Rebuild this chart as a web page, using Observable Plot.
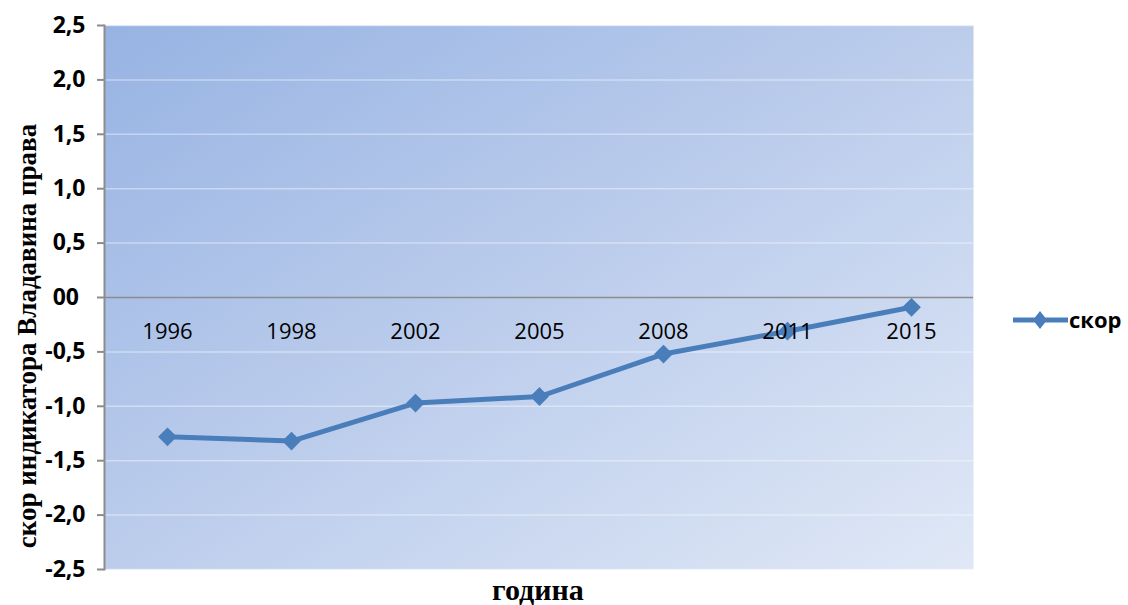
<!DOCTYPE html>
<html><head><meta charset="utf-8">
<script src="https://cdn.jsdelivr.net/npm/d3@7"></script>
<script src="https://cdn.jsdelivr.net/npm/@observablehq/plot@0.6"></script>
<style>body{margin:0;background:#fff;}</style>
</head><body><div id="chart"></div>
<script>
const years = ["1996","1998","2002","2005","2008","2011","2015"];
const scores = [-1.28,-1.32,-0.97,-0.91,-0.52,-0.31,-0.09];
const yTicks = [-2.5,-2,-1.5,-1,-0.5,0,0.5,1,1.5,2,2.5];
const seriesName = "скор";
const yLabel = "скор индикатора Владавина права";
const xLabel = "година";

const data = years.map((y,i)=>({year:y, score:scores[i]}));
const fmt = d => d === 0 ? "00\u2008" : (d < 0 ? "-" : "") + Math.abs(d).toFixed(1).replace(".", ",");
const lineColor = "#4a7ebb";

const plot = Plot.plot({
  width: 1128, height: 605,
  marginLeft: 104, marginRight: 155, marginTop: 25, marginBottom: 36,
  style: {background: "transparent", fontFamily: "Open Sans", color: "#000"},
  x: {type: "point", domain: years, padding: 0.5, axis: null},
  y: {domain: [-2.5, 2.5], axis: null},
  marks: [
    Plot.frame({fill: "url(#bgGrad)", stroke: null}),
    Plot.ruleY(yTicks.filter(d => d !== 0), {stroke: "#ffffff", strokeOpacity: 0.4, strokeWidth: 1.5}),
    Plot.ruleY([0], {stroke: "#8c8c8c", strokeWidth: 1.5}),
    Plot.frame({anchor: "left", stroke: "#8c8c8c", strokeWidth: 2}),
    Plot.line(data, {x: "year", y: "score", stroke: lineColor, strokeWidth: 5}),
    Plot.dot(data, {x: "year", y: "score", symbol: "diamond2", r: 7.5, fill: lineColor, stroke: lineColor}),
    Plot.text(years, {x: d => d, y: () => 0, dy: 34, text: d => d, fontSize: 22, fill: "#000"}),
    Plot.axisY({ticks: yTicks, tickFormat: () => "", tickSize: 7, stroke: "#8c8c8c", strokeWidth: 2, label: null}),
    Plot.text(yTicks, {y: d => d, frameAnchor: "left", dx: -19, textAnchor: "end", text: fmt,
      fontSize: 23, fontWeight: "bold", fill: "#000"})
  ]
});

const svg = d3.select(plot);
svg.insert("defs", ":first-child").html(
  `<linearGradient id="bgGrad" x1="0" y1="0" x2="1" y2="1">
     <stop offset="0" stop-color="#97b3e3"/>
     <stop offset="0.5" stop-color="#bccdec"/>
     <stop offset="1" stop-color="#e0e8f6"/>
   </linearGradient>`);

// axis titles
svg.append("text")
  .attr("transform", "translate(36,336) rotate(-90)")
  .attr("text-anchor", "middle")
  .attr("font-family", "Liberation Serif").attr("font-weight", "bold").attr("font-size", 27)
  .attr("fill", "#000").text(yLabel);
svg.append("text")
  .attr("x", 538).attr("y", 600)
  .attr("text-anchor", "middle")
  .attr("font-family", "Liberation Serif").attr("font-weight", "bold").attr("font-size", 30)
  .attr("fill", "#000").text(xLabel);

// legend
const lg = svg.append("g").attr("transform", "translate(1013,320)");
lg.append("line").attr("x1", 0).attr("x2", 55).attr("y1", 0).attr("y2", 0)
  .attr("stroke", lineColor).attr("stroke-width", 5);
lg.append("path").attr("d", "M27,-9L34,0L27,9L20,0Z").attr("fill", lineColor);
lg.append("text").attr("x", 56).attr("y", 0).attr("dy", "0.35em")
  .attr("text-anchor", "start")
  .attr("font-family", "Open Sans").attr("font-weight", "bold").attr("font-size", 22)
  .attr("fill", "#000").text(seriesName);

document.getElementById("chart").appendChild(plot);
</script>
</body></html>
